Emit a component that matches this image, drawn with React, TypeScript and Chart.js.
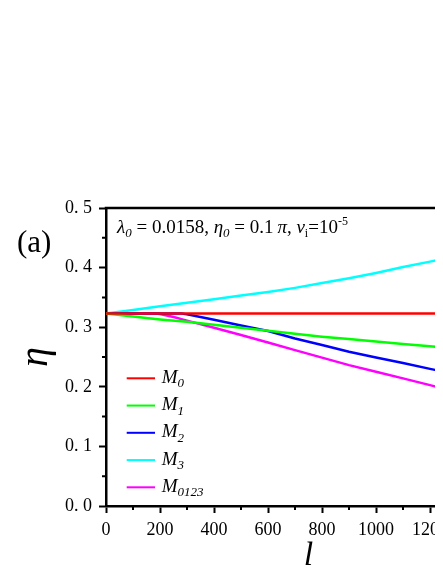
import React, { useEffect, useRef } from "react";
import { Chart, registerables } from "chart.js";

Chart.register(...registerables);

// ---- data ----
const L_COMMON = [0, 100, 200, 300, 400, 500, 600, 700, 800, 900, 1000, 1100, 1200, 1250];
const M0 = [0.323, 0.323, 0.323, 0.323, 0.323, 0.323, 0.323, 0.323, 0.323, 0.323, 0.323, 0.323, 0.323, 0.323];
const M1 = [0.323, 0.318, 0.313, 0.309, 0.304, 0.299, 0.294, 0.289, 0.284, 0.28, 0.276, 0.272, 0.268, 0.266];
const M3 = [0.323, 0.329, 0.335, 0.341, 0.347, 0.353, 0.359, 0.366, 0.374, 0.382, 0.391, 0.401, 0.41, 0.415];
const L_M2 = [0, 200, 280, 300, 350, 400, 500, 600, 700, 800, 900, 1000, 1100, 1200, 1250];
const M2 = [0.323, 0.323, 0.3228, 0.3215, 0.317, 0.3125, 0.303, 0.2935, 0.281, 0.27, 0.2587, 0.2493, 0.2398, 0.2301, 0.2255];
const L_M0123 = [0, 180, 200, 250, 300, 400, 500, 600, 700, 800, 900, 1000, 1100, 1200, 1250];
const M0123 = [0.323, 0.323, 0.3222, 0.317, 0.311, 0.299, 0.287, 0.2742, 0.2616, 0.249, 0.2363, 0.2253, 0.2141, 0.2028, 0.197];

const SERIES_NAMES = ["0", "1", "2", "3", "0123"];
const SERIES_COLORS = ["#ff0000", "#00ff00", "#0000ff", "#00ffff", "#ff00ff"];
const X_MIN = 0;
const X_MAX = 1400;
const X_STEP = 200;
const X_MINOR = [100, 300, 500, 700, 900, 1100, 1300];
const Y_MIN = 0;
const Y_MAX = 0.5;
const Y_STEP = 0.1;
const Y_MINOR = [0.05, 0.15, 0.25, 0.35, 0.45];

const W = 500;
const H = 565;
const FONT = '"Liberation Serif", "Times New Roman", serif';

type Seg = { t: string; size: number; italic?: boolean; dy?: number };

function drawRich(ctx: CanvasRenderingContext2D, x: number, y: number, segs: Seg[]) {
  ctx.textAlign = "left";
  ctx.textBaseline = "alphabetic";
  for (const s of segs) {
    ctx.font = `${s.italic ? "italic " : ""}${s.size}px ${FONT}`;
    ctx.fillText(s.t, x, y + (s.dy || 0));
    x += ctx.measureText(s.t).width;
  }
}

const decorPlugin = {
  id: "decor",
  afterDraw(chart: any) {
    const { ctx, chartArea: a, scales } = chart;
    const x = scales.x;
    const y = scales.y;
    ctx.save();
    ctx.strokeStyle = "#000";
    ctx.fillStyle = "#000";
    // top frame line
    ctx.lineWidth = 2.5;
    ctx.beginPath();
    ctx.moveTo(a.left - 1.25, a.top);
    ctx.lineTo(a.right, a.top);
    ctx.stroke();
    // minor ticks
    ctx.lineWidth = 2;
    ctx.beginPath();
    for (const v of Y_MINOR) {
      const py = y.getPixelForValue(v);
      ctx.moveTo(a.left, py);
      ctx.lineTo(a.left - 4, py);
    }
    for (const v of X_MINOR) {
      const px = x.getPixelForValue(v);
      ctx.moveTo(px, a.bottom);
      ctx.lineTo(px, a.bottom + 4);
    }
    ctx.stroke();

    // legend
    const rowGap = 27.25;
    const firstRow = a.bottom - 18.7 - rowGap * (SERIES_NAMES.length - 1);
    SERIES_NAMES.forEach((n, i) => {
      const ry = firstRow + i * rowGap;
      ctx.strokeStyle = SERIES_COLORS[i];
      ctx.lineWidth = 2;
      ctx.beginPath();
      ctx.moveTo(a.left + 20.7, ry);
      ctx.lineTo(a.left + 49, ry);
      ctx.stroke();
      ctx.fillStyle = "#000";
      drawRich(ctx, a.left + 55.7, ry + 4.6, [
        { t: "M", size: 19, italic: true },
        { t: n, size: 13, italic: true, dy: 4.5 },
      ]);
    });

    // annotation
    drawRich(ctx, a.left + 11, a.top + 25, [
      { t: "λ", size: 19, italic: true },
      { t: "0", size: 13, italic: true, dy: 4 },
      { t: " = 0.0158, ", size: 19 },
      { t: "η", size: 19, italic: true },
      { t: "0", size: 13, italic: true, dy: 4 },
      { t: " = 0.1\u2009", size: 19 },
      { t: "π", size: 19, italic: true },
      { t: ", ", size: 19 },
      { t: "v", size: 19, italic: true },
      { t: "i", size: 12, dy: 4 },
      { t: "=10", size: 19 },
      { t: "-5", size: 12, dy: -8 },
    ]);

    // panel label
    ctx.font = `31px ${FONT}`;
    ctx.textAlign = "left";
    ctx.textBaseline = "alphabetic";
    ctx.fillText("(a)", 9, 244);

    // y title
    ctx.save();
    ctx.translate(a.left - 70, (a.top + a.bottom) / 2);
    ctx.rotate(-Math.PI / 2);
    ctx.font = `italic 40px ${FONT}`;
    ctx.textAlign = "center";
    ctx.textBaseline = "middle";
    ctx.fillText("η", 0, 0);
    ctx.restore();

    // x title
    ctx.font = `italic 34px ${FONT}`;
    ctx.textAlign = "center";
    ctx.textBaseline = "alphabetic";
    ctx.fillText("l", x.getPixelForValue(750), H - 8);

    ctx.restore();
  },
};

export default function App() {
  const ref = useRef<HTMLCanvasElement | null>(null);

  useEffect(() => {
    if (!ref.current) return;
    const mk = (xs: number[], ys: number[]) => xs.map((v, i) => ({ x: v, y: ys[i] }));
    const seriesData = [mk(L_COMMON, M0), mk(L_COMMON, M1), mk(L_M2, M2), mk(L_COMMON, M3), mk(L_M0123, M0123)];
    const chart = new Chart(ref.current, {
      type: "line",
      data: {
        datasets: seriesData.map((d, i) => ({
          label: "M" + SERIES_NAMES[i],
          data: d,
          borderColor: SERIES_COLORS[i],
          backgroundColor: SERIES_COLORS[i],
          borderWidth: 2.5,
          pointRadius: 0,
          tension: 0,
          fill: false,
        })),
      },
      options: {
        responsive: false,
        animation: false,
        devicePixelRatio: 1,
        layout: { padding: { top: 200, right: 12, bottom: 0, left: 0 } },
        plugins: { legend: { display: false }, tooltip: { enabled: false } },
        scales: {
          x: {
            type: "linear",
            min: X_MIN,
            max: X_MAX,
            afterFit: (s: any) => {
              s.height = 67;
            },
            ticks: {
              stepSize: X_STEP,
              padding: 6,
              color: "#000",
              font: { family: FONT, size: 18 },
              maxRotation: 0,
              autoSkip: false,
              callback: (v: any) => String(v),
            },
            grid: {
              drawOnChartArea: false,
              drawTicks: true,
              tickLength: 7,
              tickWidth: 2,
              tickColor: "#000",
            },
            border: { display: true, color: "#000", width: 2.5 },
          },
          y: {
            type: "linear",
            min: Y_MIN,
            max: Y_MAX,
            afterFit: (s: any) => {
              s.width = 98;
            },
            ticks: {
              stepSize: Y_STEP,
              padding: 7,
              color: "#000",
              font: { family: FONT, size: 18 },
              callback: (v: any) => Number(v).toFixed(1).replace(".", ". "),
            },
            grid: {
              drawOnChartArea: false,
              drawTicks: true,
              tickLength: 7,
              tickWidth: 2,
              tickColor: "#000",
            },
            border: { display: true, color: "#000", width: 2.5 },
          },
        },
      },
      plugins: [decorPlugin],
    });
    return () => chart.destroy();
  }, []);

  return (
    <div style={{ width: 435, height: H, overflow: "hidden", position: "relative" }}>
      <canvas ref={ref} width={W} height={H} style={{ display: "block", width: W, height: H }} />
    </div>
  );
}
